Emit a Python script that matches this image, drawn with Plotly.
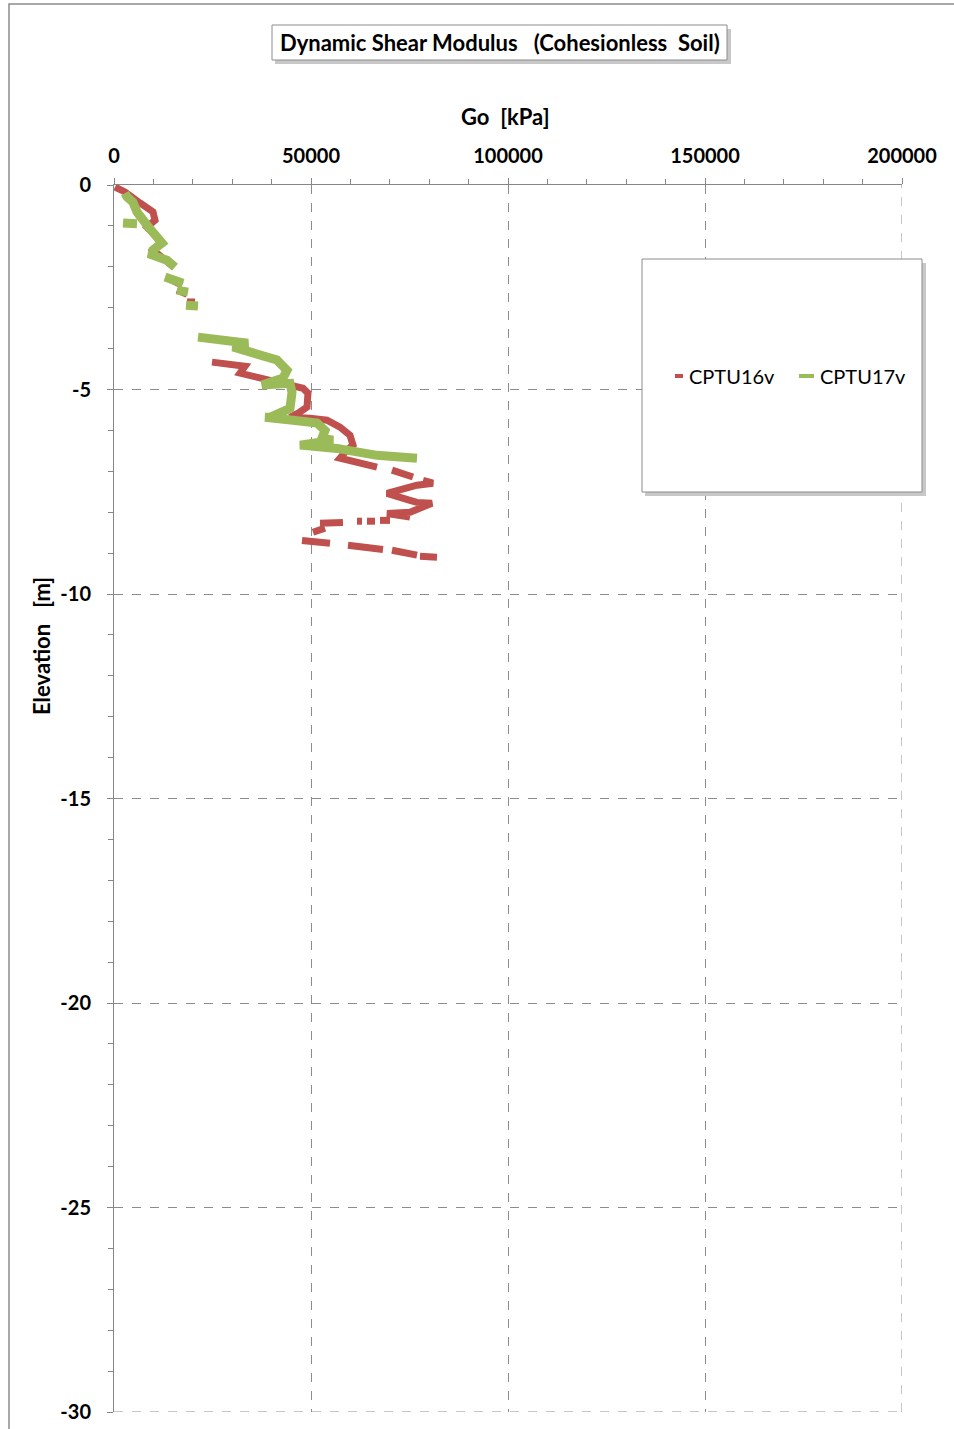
import plotly.graph_objects as go

# ---- data (Go [kPa], Elevation [m]); None marks gaps in the record ----
cptu16_go = [254, 2792, 6599, 9898, 10405, 8375, 10913, 11929, 9898, 13197, 15228, None,
             13705, 17258, None,
             15989, 18527, None,
             18527, 20558, None,
             24872, 31979, 33248, 31979, 36293, 40354, 44669, 47968, 49237, 48984, 47207, 44669,
             49745, 54060, 57359, 59897, 60658, 59135, 57359, 66749, None,
             70556, 75886, None,
             78424, 80962, 76901, 69287, 75125, 76901, 80708, 77663, 75125, 69287, 75125, None,
             70048, 67510, None,
             66241, 64211, None,
             62942, 61673, None,
             58120, 52282, None,
             53552, 50506, None,
             47714, 54821, None,
             59389, 68272, None,
             70556, 73600, 76901, None,
             77663, 81977]
cptu16_el = [-0.05, -0.17, -0.44, -0.66, -0.86, -1.03, -1.27, -1.42, -1.59, -1.84, -2.01, None,
             -2.28, -2.45, None,
             -2.57, -2.67, None,
             -2.86, -2.86, None,
             -4.33, -4.40, -4.43, -4.60, -4.70, -4.82, -4.89, -4.97, -5.09, -5.43, -5.55, -5.68,
             -5.70, -5.75, -5.92, -6.12, -6.36, -6.48, -6.68, -6.90, None,
             -6.97, -7.14, None,
             -7.22, -7.29, -7.34, -7.54, -7.71, -7.76, -7.78, -7.88, -8.00, -8.03, -8.12, None,
             -8.20, -8.20, None,
             -8.22, -8.22, None,
             -8.22, -8.22, None,
             -8.25, -8.27, None,
             -8.39, -8.49, None,
             -8.69, -8.76, None,
             -8.81, -8.91, None,
             -8.93, -8.99, -9.05, None,
             -9.08, -9.10]

cptu17_go = [2792, 3299, 4822, 5837, 8375, 11167, 12182, 9898, 9644, 13451, 15482, None,
             12944, 17512, None,
             15989, 18781, None,
             18274, 21319, None,
             2284, 5837, None,
             21319, 30202, 34009, 30202, 36293, 41369, 43907, 42893, 37562, 44669, 45176, 44669,
             44669, 39593, 38324, 45430, 51521, 53552, 52790, 55582, 47207, 56597, 66749, 76901]
cptu17_el = [-0.20, -0.29, -0.42, -0.66, -0.98, -1.27, -1.42, -1.59, -1.71, -1.84, -2.01, None,
             -2.25, -2.40, None,
             -2.57, -2.62, None,
             -2.94, -2.96, None,
             -0.93, -0.95, None,
             -3.72, -3.84, -3.87, -3.96, -4.11, -4.28, -4.53, -4.72, -4.89, -4.85, -5.07, -5.26,
             -5.46, -5.68, -5.68, -5.75, -5.82, -6.00, -6.19, -6.24, -6.36, -6.44, -6.61, -6.68]

series_names = ["CPTU16v", "CPTU17v"]
series_colors = ["#C0504D", "#9BBB59"]

x_range = [0, 200000]
y_range = [-30, 0]
x_ticks = [0, 50000, 100000, 150000, 200000]
y_ticks = [0, -5, -10, -15, -20, -25, -30]

# ---- layout geometry (pixels) ----
W, H = 954, 1429
L, R, T, B = 114, 902, 185, 1412
FONT = "Lato"
GRID = "#8c8c8c"
AXIS = "#868686"


def px(x):
    return (x - L) / (R - L)


def py(y):
    return (B - y) / (B - T)


fig = go.Figure()
fig.add_trace(go.Scatter(x=cptu16_go, y=cptu16_el, mode="lines", name=series_names[0],
                         line=dict(color=series_colors[0], width=7), connectgaps=False,
                         showlegend=False))
fig.add_trace(go.Scatter(x=cptu17_go, y=cptu17_el, mode="lines", name=series_names[1],
                         line=dict(color=series_colors[1], width=9), connectgaps=False,
                         showlegend=False))

axis_common = dict(showline=True, linecolor=AXIS, linewidth=1,
                   gridcolor=GRID, griddash="dash", gridwidth=1,
                   ticks="outside", ticklen=6, tickcolor=AXIS,
                   tickfont=dict(family=FONT, size=20, color="black", weight="bold"),
                   zeroline=False, automargin=False)

fig.update_layout(
    width=W, height=H,
    margin=dict(l=L, r=W - R, t=T, b=H - B),
    paper_bgcolor="white", plot_bgcolor="white",
    font=dict(family=FONT),
    xaxis=dict(range=x_range, side="top", tickvals=x_ticks,
               ticktext=[str(v) for v in x_ticks], ticklabelstandoff=7,
               minor=dict(dtick=10000, ticks="outside", ticklen=5, tickcolor=AXIS,
                          showgrid=False),
               **axis_common),
    yaxis=dict(range=y_range, tickvals=y_ticks, ticktext=[str(v) for v in y_ticks],
               ticklabelstandoff=12,
               minor=dict(dtick=1, ticks="outside", ticklen=5, tickcolor=AXIS,
                          showgrid=False),
               **axis_common),
)

shapes = []
# chart area border (top and left visible)
shapes.append(dict(type="rect", xref="paper", yref="paper",
                   x0=px(9), x1=px(990), y0=py(1460), y1=py(4),
                   line=dict(color="#8c8c8c", width=1.5), fillcolor="rgba(0,0,0,0)", layer="below"))
# edge gridlines (right and bottom)
shapes.append(dict(type="line", xref="x", yref="y", x0=x_range[1], x1=x_range[1],
                   y0=y_range[0], y1=y_range[1], line=dict(color=GRID, width=1, dash="dash"),
                   layer="below"))
shapes.append(dict(type="line", xref="x", yref="y", x0=x_range[0], x1=x_range[1],
                   y0=y_range[0], y1=y_range[0], line=dict(color=GRID, width=1, dash="dash"),
                   layer="below"))
# title box shadow + box
shapes.append(dict(type="rect", xref="paper", yref="paper",
                   x0=px(275), x1=px(731), y0=py(64), y1=py(29),
                   line=dict(width=0), fillcolor="#c8c8c8"))
shapes.append(dict(type="rect", xref="paper", yref="paper",
                   x0=px(272), x1=px(727), y0=py(60), y1=py(25),
                   line=dict(color="#8c8c8c", width=1), fillcolor="white"))
# legend box shadow + box
shapes.append(dict(type="rect", xref="paper", yref="paper",
                   x0=px(645), x1=px(926), y0=py(496), y1=py(263),
                   line=dict(width=0), fillcolor="#c8c8c8"))
shapes.append(dict(type="rect", xref="paper", yref="paper",
                   x0=px(642), x1=px(922), y0=py(492), y1=py(259),
                   line=dict(color="#8c8c8c", width=1), fillcolor="white"))
# legend swatches
shapes.append(dict(type="line", xref="paper", yref="paper",
                   x0=px(675), x1=px(683), y0=py(376), y1=py(376),
                   line=dict(color=series_colors[0], width=4)))
shapes.append(dict(type="line", xref="paper", yref="paper",
                   x0=px(799), x1=px(814), y0=py(376), y1=py(376),
                   line=dict(color=series_colors[1], width=4)))
fig.update_layout(shapes=shapes)

ann = []
ann.append(dict(text="Dynamic Shear Modulus&nbsp;&nbsp;&nbsp;(Cohesionless&nbsp;&nbsp;Soil)",
                xref="paper", yref="paper", x=px(499.5), y=py(42), showarrow=False,
                xanchor="center", yanchor="middle",
                font=dict(family=FONT, size=22, color="black", weight="bold")))
ann.append(dict(text="Go&nbsp;&nbsp;[kPa]", xref="paper", yref="paper", x=px(505), y=py(116),
                showarrow=False, xanchor="center", yanchor="middle",
                font=dict(family=FONT, size=22, color="black", weight="bold")))
ann.append(dict(text="Elevation&nbsp;&nbsp;&nbsp;[m]", xref="paper", yref="paper", x=px(41), y=py(646),
                showarrow=False, xanchor="center", yanchor="middle", textangle=-90,
                font=dict(family=FONT, size=22, color="black", weight="bold")))
ann.append(dict(text=series_names[0], xref="paper", yref="paper", x=px(687), y=py(376),
                showarrow=False, xanchor="left", yanchor="middle",
                font=dict(family=FONT, size=20, color="black")))
ann.append(dict(text=series_names[1], xref="paper", yref="paper", x=px(818), y=py(376),
                showarrow=False, xanchor="left", yanchor="middle",
                font=dict(family=FONT, size=20, color="black")))
fig.update_layout(annotations=ann)

fig.write_html("out.html")
